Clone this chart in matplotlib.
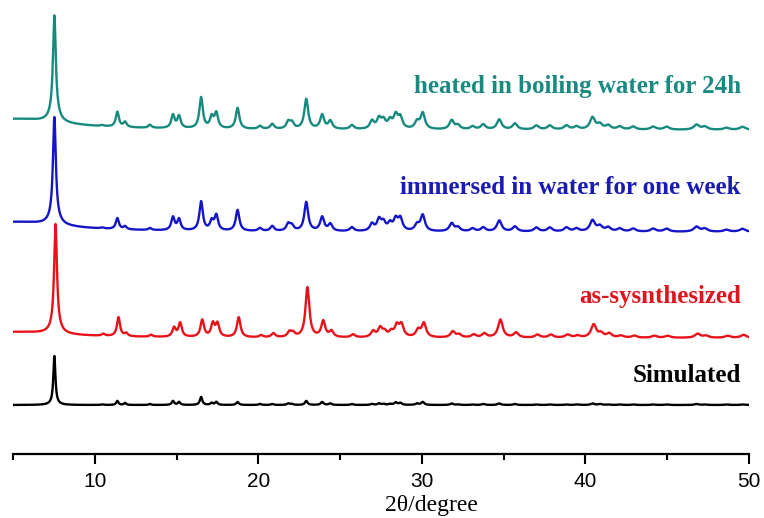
import numpy as np
import matplotlib
matplotlib.use("Agg")
import matplotlib.pyplot as plt
from matplotlib.ticker import MultipleLocator
from matplotlib.transforms import blended_transform_factory

# ---- data: peak positions (2theta, degree) and intensities (a.u.) ----
peak_pos = [7.53, 10.45, 11.38, 11.85, 13.37, 14.78, 15.15, 16.50, 17.15, 17.43,
            18.73, 20.10, 20.85, 21.83, 22.05, 22.93, 23.90, 24.40, 25.72, 26.95,
            27.38, 27.65, 28.05, 28.40, 28.68, 29.70, 30.05, 31.82, 32.20, 33.10,
            33.75, 34.73, 35.69, 37.00, 37.82, 38.84, 39.45, 40.43, 40.88, 41.39,
            42.10, 42.92, 44.14, 44.96, 46.79, 47.30, 48.62, 49.60]

heated_int = [100, 1, 15, 5, 3, 13, 12, 31, 11, 15,
              21, 3, 5, 7, 6, 30, 14, 8, 4, 8,
              10, 8, 8, 13, 11, 7, 16, 9, 4, 3,
              5, 10, 6, 4, 4, 4, 3, 12, 5, 4,
              3, 3, 3, 3, 5, 3, 2, 3]

immersed_int = [101, 1, 11, 3, 2, 13, 11, 29, 9, 15,
                21, 3, 5, 7, 5, 29, 14, 7, 4, 7,
                11, 8, 7, 11, 12, 6, 16, 8, 4, 3,
                4, 11, 5, 4, 4, 4, 3, 11, 5, 4,
                3, 3, 3, 3, 5, 3, 2, 3]

as_synth_int = [105, 2, 19, 3, 2, 9, 14, 17, 13, 13,
                20, 2, 4, 5, 4, 50, 16, 6, 3, 6,
                9, 5, 5, 11, 12, 7, 14, 6, 3, 3,
                4, 18, 5, 3, 3, 3, 2, 13, 4, 4,
                2, 2, 2, 2, 4, 2, 2, 3]

simulated_int = [48, 0.5, 4, 2, 1, 4, 3, 8, 2, 3,
                 3, 1, 1, 1.5, 1, 4, 3, 1.5, 1, 1,
                 1.5, 1, 1, 2.5, 2, 1.5, 3, 1.5, 0.5, 0.5,
                 1, 1.5, 1, 0.5, 0.5, 0.5, 0.5, 1.5, 1, 0.5,
                 0.5, 0.5, 0.5, 0.5, 1, 0.5, 0.5, 0.5]

# low-angle background level and broad foot under the first peak (a.u.)
bg_level = [11, 10, 6, 0]
foot_level = [7, 7, 5, 1]

labels = ["heated in boiling water for 24h", "immersed in water for one week",
          "as-sysnthesized", "Simulated"]

# ---- style / layout ----
colors = ["#178a7f", "#1414c8", "#e8121b", "#000000"]
text_colors = ["#1a8a80", "#1a1ab4", "#e0141c", "#000000"]
offsets = [324, 222, 116, 49]
label_y = [367, 267, 158, 78]
red_shift = 0.07

x = np.linspace(5, 50, 6000)


def profile(pos, amp, bg, foot, shift=0.0, sharp=False):
    y = np.zeros_like(x)
    for p, a in zip(pos, amp):
        w = (0.13 + 0.003 * p) if sharp else (0.17 + 0.005 * p)
        y += a / (1 + ((x - p - shift) / (w / 2)) ** 2)
    y += foot / (1 + ((x - pos[0] - shift) / 0.35) ** 2)
    y += bg / (1 + ((x - 5) / 3.8) ** 2)
    return y


series = [profile(peak_pos, heated_int, bg_level[0], foot_level[0]),
          profile(peak_pos, immersed_int, bg_level[1], foot_level[1]),
          profile(peak_pos, as_synth_int, bg_level[2], foot_level[2], red_shift),
          profile(peak_pos, simulated_int, bg_level[3], foot_level[3], sharp=True)]

fig = plt.figure(figsize=(7.64, 5.18), dpi=100)
ax = fig.add_axes([13 / 764, 64 / 518, 736 / 764, 449 / 518])

for i in [3, 2, 1, 0]:
    ax.plot(x, series[i] + offsets[i], color=colors[i], lw=1.7, zorder=5 - i)

tr = blended_transform_factory(fig.transFigure, ax.transData)
for i in range(4):
    ax.text(741 / 764, label_y[i], labels[i], color=text_colors[i], transform=tr,
            ha="right", va="center", fontsize=18, fontweight="bold",
            family="Liberation Serif")

ax.set_xlim(5, 50)
ax.set_ylim(0, 449)
for s in ["left", "right", "top"]:
    ax.spines[s].set_visible(False)
ax.spines["bottom"].set_linewidth(1.6)
ax.set_yticks([])
ax.xaxis.set_major_locator(MultipleLocator(10))
ax.xaxis.set_minor_locator(MultipleLocator(5))
ax.tick_params(axis="x", which="major", direction="out", length=7, width=1.5,
               labelsize=15, pad=6)
ax.tick_params(axis="x", which="minor", direction="out", length=4, width=1.5)
for lab in ax.get_xticklabels():
    lab.set_family("Liberation Sans")
ax.set_xlabel("2θ/degree", family="Liberation Serif", fontsize=17)
ax.xaxis.set_label_coords((431 - 13) / 736, -0.114)
ax.xaxis.label.set_verticalalignment("center")

fig.savefig("out.png", dpi=100)
